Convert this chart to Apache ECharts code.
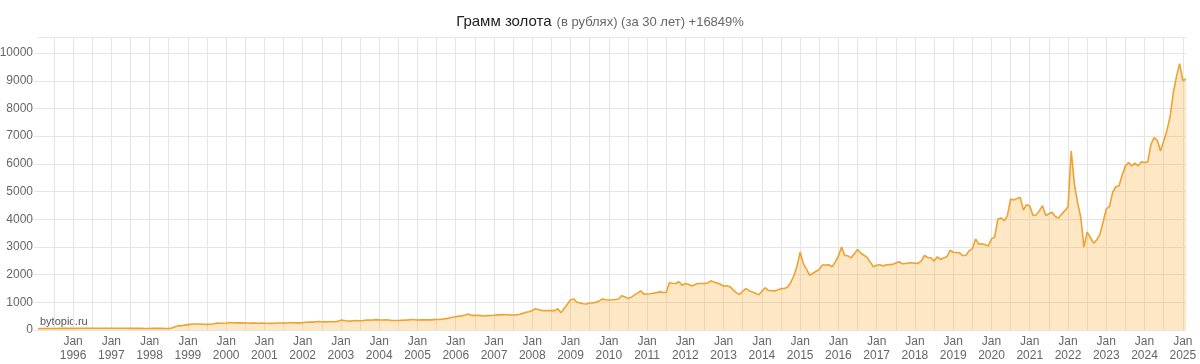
<!DOCTYPE html>
<html>
<head>
<meta charset="utf-8">
<script src="https://cdn.jsdelivr.net/npm/echarts@6/dist/echarts.min.js"></script>
<style>
html,body{margin:0;padding:0;background:#fff;}
#chart{width:1200px;height:364px;}
</style>
</head>
<body>
<div id="chart"></div>
<script>
// Title texts
const titleMain = 'Грамм золота';
const titleSub = '(в рублях) (за 30 лет) +16849%';
const watermark = 'bytopic.ru';

// Monthly gold price, RUB per gram, starting Feb 1995
const startYear = 1995, startMonth = 2;
const price1995 = [53, 54, 55, 54, 55, 56, 56, 57, 57, 58, 58];
const price1996 = [59, 60, 61, 62, 62, 62, 63, 63, 63, 64, 64, 64];
const price1997 = [65, 64, 63, 63, 62, 61, 60, 59, 59, 59, 57, 56];
const price1998 = [56, 57, 57, 58, 57, 56, 56, 70, 120, 150, 155, 175];
const price1999 = [195, 205, 215, 218, 215, 205, 203, 207, 215, 250, 245, 245];
const price2000 = [255, 270, 262, 258, 258, 258, 255, 253, 250, 248, 245, 248];
const price2001 = [245, 243, 240, 245, 255, 253, 250, 255, 270, 262, 258, 258];
const price2002 = [268, 280, 283, 285, 300, 305, 300, 295, 300, 298, 300, 312];
const price2003 = [355, 345, 325, 320, 335, 340, 335, 340, 360, 355, 360, 375];
const price2004 = [365, 360, 370, 360, 345, 345, 345, 350, 355, 360, 375, 370];
const price2005 = [360, 365, 370, 365, 365, 375, 380, 385, 395, 410, 430, 460];
const price2006 = [480, 500, 510, 540, 580, 520, 530, 530, 520, 505, 520, 525];
const price2007 = [530, 550, 545, 560, 550, 540, 540, 545, 570, 600, 640, 660];
const price2008 = [705, 765, 730, 710, 700, 700, 700, 700, 765, 623, 780, 930];
const price2009 = [1094, 1118, 1000, 976, 950, 940, 976, 980, 1000, 1050, 1118, 1090];
const price2010 = [1082, 1090, 1100, 1118, 1235, 1200, 1141, 1180, 1259, 1330, 1412, 1294];
const price2011 = [1300, 1310, 1330, 1350, 1376, 1360, 1353, 1706, 1690, 1682, 1741, 1612];
const price2012 = [1682, 1650, 1588, 1640, 1682, 1680, 1682, 1700, 1776, 1729, 1700, 1650];
const price2013 = [1588, 1600, 1565, 1450, 1350, 1282, 1400, 1494, 1420, 1376, 1330, 1270];
const price2014 = [1400, 1529, 1435, 1420, 1412, 1450, 1494, 1500, 1541, 1706, 1950, 2300];
const price2015 = [2810, 2400, 2200, 1976, 2048, 2120, 2190, 2345, 2350, 2357, 2286, 2450];
const price2016 = [2667, 3000, 2690, 2679, 2607, 2750, 2905, 2780, 2700, 2620, 2450, 2286];
const price2017 = [2340, 2357, 2310, 2357, 2360, 2369, 2420, 2464, 2393, 2400, 2420, 2429];
const price2018 = [2410, 2405, 2500, 2690, 2620, 2607, 2488, 2643, 2548, 2600, 2643, 2881];
const price2019 = [2810, 2800, 2786, 2690, 2700, 2865, 2930, 3290, 3100, 3112, 3078, 3033];
const price2020 = [3293, 3353, 4012, 4048, 3952, 4132, 4731, 4695, 4750, 4790, 4335, 4527];
const price2021 = [4491, 4132, 4156, 4300, 4491, 4132, 4200, 4251, 4096, 4048, 4180, 4311];
const price2022 = [4455, 6467, 5269, 4600, 4072, 2994, 3533, 3350, 3138, 3250, 3450, 3900];
const price2023 = [4371, 4455, 4970, 5174, 5210, 5600, 5928, 6048, 5928, 6024, 5928, 6072];
const price2024 = [6048, 6072, 6707, 6946, 6850, 6467, 6826, 7200, 7700, 8550, 9150, 9620];
const price2025 = [9006, 9066];

const prices = [].concat(price1995, price1996, price1997, price1998, price1999, price2000,
  price2001, price2002, price2003, price2004, price2005, price2006, price2007, price2008,
  price2009, price2010, price2011, price2012, price2013, price2014, price2015, price2016,
  price2017, price2018, price2019, price2020, price2021, price2022, price2023, price2024, price2025);

// Month categories "YYYY-MM"
const months = [];
for (let i = 0; i < prices.length; i++) {
  const m = startMonth - 1 + i;
  const y = startYear + Math.floor(m / 12);
  const mm = (m % 12) + 1;
  months.push(y + '-' + (mm < 10 ? '0' + mm : mm));
}

const yTickStep = 1000;
const gridColor = '#e5e5e5';
const font = 'Arial, "Liberation Sans", sans-serif';

const chart = echarts.init(document.getElementById('chart'), null, {renderer: 'canvas'});
chart.setOption({
  animation: false,
  backgroundColor: '#ffffff',
  title: {
    text: '{a|' + titleMain + '} {b|' + titleSub + '}',
    left: 'center',
    top: 8,
    textStyle: {
      fontWeight: 'normal',
      rich: {
        a: {fontSize: 15, color: '#222', fontFamily: font, fontWeight: 'normal'},
        b: {fontSize: 13, color: '#666', fontFamily: font, fontWeight: 'normal'}
      }
    }
  },
  graphic: [{
    type: 'text',
    left: 40,
    top: 316,
    style: {text: watermark, fill: '#555', font: '11px ' + font}
  }],
  grid: {left: 38, right: 14, top: 37, bottom: 34, containLabel: false, outerBoundsMode: 'none'},
  xAxis: {
    type: 'category',
    data: months,
    boundaryGap: false,
    axisLine: {show: true, lineStyle: {color: gridColor}},
    axisTick: {show: false},
    axisLabel: {
      interval: function (idx, val) { return val.slice(5) === '01'; },
      formatter: function (val) { return 'Jan\n' + val.slice(0, 4); },
      color: '#666',
      fontSize: 12,
      lineHeight: 14,
      margin: 5,
      fontFamily: font
    },
    splitLine: {
      show: true,
      interval: function (idx, val) { const m = val.slice(5); return m === '01' || m === '07'; },
      lineStyle: {color: gridColor, width: 1}
    }
  },
  yAxis: {
    type: 'value',
    min: 0,
    max: function (v) { return v.max * 1.1; },
    interval: yTickStep,
    axisLine: {show: false},
    axisTick: {show: true, length: 4, lineStyle: {color: gridColor}},
    axisLabel: {
      color: '#666',
      fontSize: 12,
      margin: 5,
      fontFamily: font,
      showMaxLabel: false,
      formatter: function (v) { return v % yTickStep === 0 ? String(v) : ''; }
    },
    splitLine: {show: true, lineStyle: {color: gridColor, width: 1}}
  },
  series: [{
    type: 'line',
    data: prices,
    showSymbol: false,
    smooth: false,
    lineStyle: {color: '#eda331', width: 1.6},
    areaStyle: {color: 'rgba(247,166,35,0.38)'},
    z: 3
  }]
});
</script>
</body>
</html>
